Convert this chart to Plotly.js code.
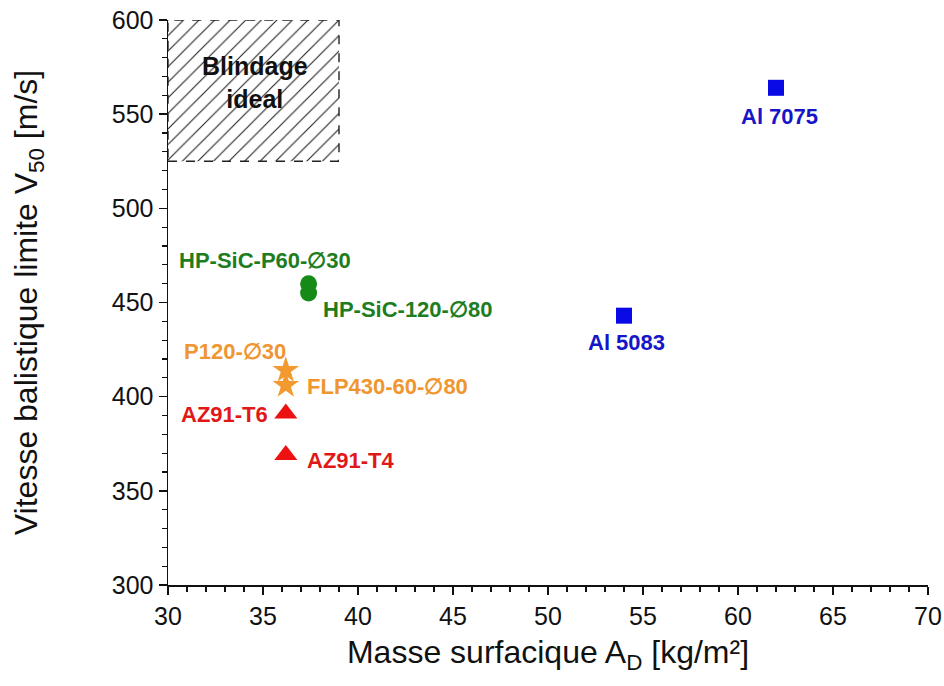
<!DOCTYPE html>
<html><head><meta charset="utf-8">
<script src="https://cdn.plot.ly/plotly-3.0.1.min.js"></script>
<style>html,body{margin:0;padding:0;background:#fff}#chart{width:944px;height:686px}</style>
</head><body><div id="chart"></div>
<script>
// Data
const materials = ["Al 7075", "Al 5083", "HP-SiC-P60-∅30", "HP-SiC-120-∅80", "P120-∅30", "FLP430-60-∅80", "AZ91-T6", "AZ91-T4"];
const arealMass = [62.0, 54.0, 37.4, 37.4, 36.2, 36.2, 36.2, 36.2];
const v50 = [564, 443, 460, 455, 414, 406, 391, 369];
const groups = ["Al", "Al", "SiC", "SiC", "Steel", "Steel", "Mg", "Mg"];
const idealZoneX = [30, 39];
const idealZoneY = [525, 600];

const style = {
  Al:    {color: "#0a0ae6", symbol: "square", size: 16},
  SiC:   {color: "#168a16", symbol: "circle", size: 17},
  Steel: {color: "#f29a30", symbol: "star", size: 20},
  Mg:    {color: "#ee1111", symbol: "triangle-up", size: 20}
};
const labelColor = {Al: "#1616c8", SiC: "#1e7d1e", Steel: "#ef9630", Mg: "#e01818"};
// label offsets (pixels) relative to each point
const shifts = [[3,-29],[2,-27],[-44,23],[99,-16],[-51,19],[102,-1],[-61,-1],[65,-5]];

const traces = [];
traces.push({
  x: [idealZoneX[0], idealZoneX[1], idealZoneX[1], idealZoneX[0], idealZoneX[0]],
  y: [idealZoneY[0], idealZoneY[0], idealZoneY[1], idealZoneY[1], idealZoneY[0]],
  mode: "lines", fill: "toself", fillcolor: "rgba(0,0,0,0)",
  fillpattern: {shape: "/", fgcolor: "#222", bgcolor: "#fff", size: 11, solidity: 0.1},
  line: {color: "#222", width: 1.4, dash: "dash"},
  hoverinfo: "skip", showlegend: false, cliponaxis: false
});
["Al","SiC","Steel","Mg"].forEach(g => {
  const xs = [], ys = [];
  groups.forEach((gg, i) => { if (gg === g) { xs.push(arealMass[i]); ys.push(v50[i]); } });
  traces.push({x: xs, y: ys, mode: "markers", type: "scatter", showlegend: false,
    marker: {color: style[g].color, symbol: style[g].symbol, size: style[g].size, line: {width: 0}}});
});

const font = "'Liberation Sans', Arial, sans-serif";
const annotations = materials.map((m, i) => ({
  x: arealMass[i], y: v50[i], xref: "x", yref: "y", text: "<b>" + m + "</b>", showarrow: false,
  xshift: shifts[i][0], yshift: shifts[i][1],
  font: {family: font, size: 22, color: labelColor[groups[i]]}
}));
annotations.push({x: (idealZoneX[0]+idealZoneX[1])/2, y: (idealZoneY[0]+idealZoneY[1])/2, xref: "x", yref: "y",
  xshift: 1, yshift: 8,
  text: "<b>Blindage</b><br><b>ideal</b>", showarrow: false, bgcolor: "rgba(0,0,0,0)",
  font: {family: font, size: 25, color: "#111"}});

const layout = {
  width: 944, height: 686,
  margin: {l: 168, r: 16, t: 20, b: 101},
  paper_bgcolor: "#fff", plot_bgcolor: "#fff",
  font: {family: font, color: "#111"},
  xaxis: {range: [30, 70], dtick: 5, tick0: 30, showgrid: false, zeroline: false,
    showline: true, linecolor: "#111", linewidth: 1.5, ticks: "outside", ticklen: 8, tickwidth: 1.5, tickcolor: "#111",
    minor: {dtick: 1, ticks: "outside", ticklen: 5, tickwidth: 1.2, tickcolor: "#111"},
    tickfont: {size: 25, family: font},
    title: {text: "Masse surfacique A<sub>D</sub> [kg/m²]", font: {size: 32, family: font}, standoff: 12}},
  yaxis: {range: [300, 600], dtick: 50, showgrid: false, zeroline: false,
    showline: true, linecolor: "#111", linewidth: 1.5, ticks: "outside", ticklen: 8, tickwidth: 1.5, tickcolor: "#111",
    minor: {dtick: 10, ticks: "outside", ticklen: 5, tickwidth: 1.2, tickcolor: "#111"},
    tickfont: {size: 25, family: font},
    title: {text: "Vitesse balistique limite V<sub>50</sub> [m/s]", font: {size: 32, family: font}, standoff: 64}},
  annotations: annotations
};
Plotly.newPlot("chart", traces, layout, {displayModeBar: false, staticPlot: true});
</script></body></html>
